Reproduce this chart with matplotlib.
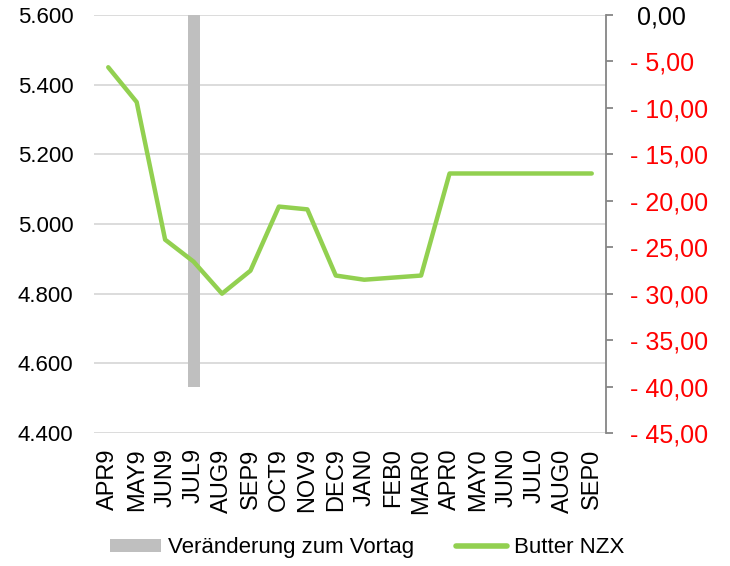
import numpy as np
import matplotlib.pyplot as plt
from matplotlib.patches import Patch
from matplotlib.lines import Line2D

plt.rcParams['font.family'] = ['Liberation Sans', 'DejaVu Sans']

months = ["APR9", "MAY9", "JUN9", "JUL9", "AUG9", "SEP9", "OCT9", "NOV9", "DEC9",
          "JAN0", "FEB0", "MAR0", "APR0", "MAY0", "JUN0", "JUL0", "AUG0", "SEP0"]
butter = [5.450, 5.350, 4.955, 4.892, 4.800, 4.866, 5.050, 5.042, 4.852,
          4.840, 4.846, 4.852, 5.145, 5.145, 5.145, 5.145, 5.145, 5.145]
change = [0, 0, 0, -40.0, 0, 0, 0, 0, 0, 0, 0, 0, 0, 0, 0, 0, 0, 0]

left_ticks = [4.4, 4.6, 4.8, 5.0, 5.2, 5.4, 5.6]
right_ticks = [0, -5, -10, -15, -20, -25, -30, -35, -40, -45]

green = "#92D050"
grey = "#BFBFBF"

fig = plt.figure(figsize=(7.3, 5.66), dpi=100)
ax = fig.add_axes([0.1288, 0.235, 0.7013, 0.7385])
x = np.arange(len(months))

# left axis: grid + labels
ax.set_ylim(4.4, 5.6)
ax.set_xlim(-0.5, len(months) - 0.5)
ax.set_yticks(left_ticks)
ax.set_yticklabels([f"{v:.3f}" for v in left_ticks])
ax.yaxis.grid(True, color="#D9D9D9", linewidth=1.3)
ax.set_axisbelow(True)
for s in ax.spines.values():
    s.set_visible(False)
ax.tick_params(axis="y", length=0, pad=15, labelsize=16)
ax.set_xticks(x)
ax.set_xticklabels(months, rotation=90)
ax.tick_params(axis="x", length=0, pad=11, labelsize=17)

# right axis: bar
ax2 = ax.twinx()
ax2.bar(x, change, width=0.42, color=grey, zorder=2)
ax2.set_ylim(-45, 0)
ax2.set_yticks(right_ticks)
ax2.set_yticklabels([" 0,00" if v == 0 else f"- {abs(v)},00" for v in right_ticks])
for lbl, v in zip(ax2.get_yticklabels(), right_ticks):
    lbl.set_color("black" if v == 0 else "red")
for k in ["top", "left", "bottom"]:
    ax2.spines[k].set_visible(False)
ax2.spines["right"].set_color("#868686")
ax2.spines["right"].set_linewidth(1.3)
ax2.tick_params(axis="y", length=5, width=1.3, color="#868686", pad=12, labelsize=18)

# line on top, same scale as left axis
ax3 = ax.twinx()
ax3.plot(x, butter, color=green, linewidth=3.2, solid_capstyle="round", zorder=3)
ax3.set_ylim(ax.get_ylim())
ax3.set_yticks([])
for s in ax3.spines.values():
    s.set_visible(False)

handles = [Patch(facecolor=grey, edgecolor="none", label="Veränderung zum Vortag"),
           Line2D([0], [0], color=green, linewidth=4, solid_capstyle="round", label="Butter NZX")]
fig.legend(handles=handles, loc="center", bbox_to_anchor=(0.503, 0.032), ncol=2,
           frameon=False, fontsize=16, handlelength=2.3, handleheight=0.5,
           handletextpad=0.3, columnspacing=1.9)

fig.savefig("out.png", dpi=100)
